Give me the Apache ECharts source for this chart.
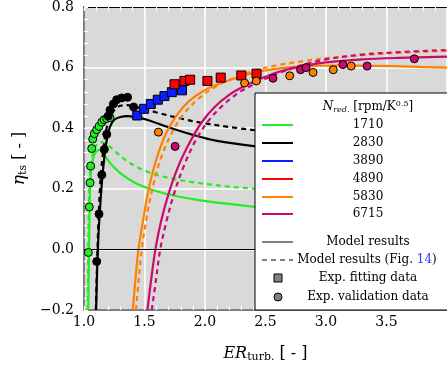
<!DOCTYPE html>
<html>
<head>
<meta charset="utf-8">
<script src="https://cdn.jsdelivr.net/npm/echarts@6/dist/echarts.min.js"></script>
<style>
  html, body { margin: 0; padding: 0; background: #fff; }
  #chart { width: 447px; height: 368px; }
</style>
</head>
<body>
<div id="chart"></div>
<script>
// Reduced speeds shown in the legend
const speedLabels = ['1710', '2830', '3890', '4890', '5830', '6715'];

// Model results (solid) and model results of Fig. 14 (dashed): [ER, eta]
const model1710 = [[1.035,-0.2],[1.04,-0.05],[1.045,0.1],[1.05,0.2],[1.06,0.265],[1.075,0.3],[1.09,0.316],[1.10,0.322],[1.12,0.328],[1.14,0.325],[1.17,0.31],[1.21,0.288],[1.25,0.27],[1.3,0.252],[1.37,0.232],[1.45,0.214],[1.6,0.192],[1.75,0.177],[1.9,0.166],[2.05,0.157],[2.2,0.15],[2.42,0.14]];
const model1710Fig14 = [[1.03,-0.2],[1.035,0],[1.04,0.15],[1.05,0.25],[1.07,0.31],[1.1,0.343],[1.14,0.354],[1.19,0.346],[1.25,0.326],[1.32,0.302],[1.4,0.28],[1.5,0.26],[1.62,0.244],[1.75,0.232],[1.9,0.222],[2.05,0.214],[2.2,0.207],[2.42,0.2]];
const model2830 = [[1.10,-0.2],[1.11,-0.05],[1.12,0.05],[1.135,0.15],[1.15,0.23],[1.17,0.31],[1.19,0.365],[1.215,0.405],[1.25,0.428],[1.3,0.437],[1.36,0.44],[1.42,0.437],[1.52,0.428],[1.7,0.403],[1.9,0.378],[2.1,0.358],[2.42,0.34]];
const model2830Fig14 = [[1.098,-0.2],[1.108,-0.05],[1.12,0.1],[1.14,0.25],[1.17,0.36],[1.2,0.42],[1.25,0.46],[1.3,0.474],[1.36,0.476],[1.45,0.468],[1.6,0.452],[1.8,0.432],[2.0,0.416],[2.2,0.404],[2.42,0.393]];
const model5830 = [[1.403,-0.2],[1.425,-0.1],[1.45,0],[1.49,0.1],[1.535,0.2],[1.6,0.3],[1.68,0.385],[1.77,0.445],[1.87,0.49],[1.98,0.521],[2.1,0.544],[2.25,0.565],[2.4,0.582],[2.55,0.594],[2.7,0.601],[2.9,0.606],[3.1,0.607],[3.4,0.606],[3.7,0.603],[4.0,0.6]];
const model5830Fig14 = [[1.43,-0.2],[1.452,-0.1],[1.477,0],[1.515,0.1],[1.565,0.2],[1.635,0.3],[1.72,0.38],[1.82,0.445],[1.94,0.495],[2.08,0.535],[2.24,0.566],[2.4,0.589],[2.6,0.608],[2.8,0.621],[3.0,0.631],[3.3,0.641],[3.6,0.649],[4.0,0.656]];
const model6715 = [[1.524,-0.2],[1.555,-0.1],[1.59,0],[1.635,0.09],[1.7,0.185],[1.78,0.275],[1.87,0.35],[1.97,0.418],[2.08,0.47],[2.2,0.51],[2.33,0.54],[2.47,0.565],[2.62,0.587],[2.8,0.604],[3.0,0.617],[3.3,0.627],[3.6,0.632],[4.0,0.636]];
const model6715Fig14 = [[1.56,-0.2],[1.595,-0.1],[1.63,0],[1.68,0.09],[1.745,0.185],[1.83,0.28],[1.93,0.365],[2.04,0.43],[2.16,0.48],[2.29,0.52],[2.43,0.55],[2.6,0.58],[2.78,0.606],[3.0,0.627],[3.3,0.643],[3.6,0.651],[4.0,0.658]];

// Experimental fitting data (squares)
const fit3890 = [[1.44,0.442],[1.497,0.464],[1.552,0.48],[1.61,0.494],[1.665,0.506],[1.726,0.519],[1.81,0.525]];
const fit4890 = [[1.748,0.545],[1.83,0.556],[1.877,0.56],[2.02,0.556],[2.13,0.567],[2.3,0.574],[2.426,0.58]];

// Experimental validation data (circles)
const val1710 = [[1.036,-0.01],[1.044,0.14],[1.05,0.22],[1.055,0.275],[1.064,0.333],[1.072,0.364],[1.085,0.382],[1.105,0.395],[1.124,0.406],[1.147,0.42],[1.166,0.428],[1.188,0.432],[1.215,0.435]];
const val2830 = [[1.105,-0.04],[1.124,0.117],[1.147,0.246],[1.168,0.33],[1.188,0.38],[1.2,0.44],[1.215,0.46],[1.243,0.48],[1.27,0.494],[1.312,0.5],[1.36,0.502],[1.41,0.47]];
const val5830 = [[1.615,0.387],[2.327,0.549],[2.424,0.556],[2.7,0.573],[2.893,0.584],[3.06,0.593],[3.208,0.605]];
const val6715 = [[1.753,0.34],[2.562,0.565],[2.79,0.593],[2.835,0.6],[3.14,0.61],[3.34,0.605],[3.73,0.629]];

const FONT = 'DejaVu Serif';
const C = {
  g: '#22ee22', k: '#000000', b: '#0a1eff', r: '#ff0000', o: '#ff8000', m: '#cc0a6e'
};
const speedColors = [C.g, C.k, C.b, C.r, C.o, C.m];
const DASH = [5, 4];

function curve(data, color, dashed) {
  return {
    type: 'line', data, symbol: 'none', smooth: 0.35,
    lineStyle: { color, width: 2.2, type: dashed ? DASH : 'solid' },
    silent: true, z: 3, animation: false
  };
}
function marks(data, color, shape) {
  return {
    type: 'scatter', data, symbol: shape, symbolSize: shape === 'rect' ? 9 : 8,
    itemStyle: { color, borderColor: '#000', borderWidth: 1, opacity: 1 },
    silent: true, z: 5, animation: false
  };
}

const minorTick = { show: true, splitNumber: 5, length: 4, lineStyle: { color: '#ffffff', width: 1.2 } };
const majorTick = { show: true, inside: true, length: 4, lineStyle: { color: '#ffffff', width: 1.2 } };
const tickLabel = { fontFamily: FONT, fontSize: 14, color: '#000' };

// Legend box drawn as graphic elements
const LX = 255, LY = 93, lineX0 = 262, lineX1 = 293, textX = 368;
const rowY = [125, 143, 161, 179, 197, 214];
const legendText = (x, y, text, extra) => Object.assign({
  type: 'text', z: 102, silent: true,
  style: Object.assign({ x, y, text, fontFamily: FONT, fontSize: 12, fill: '#000', align: 'center', verticalAlign: 'middle' }, extra || {})
});
const legendLine = (y, color, dashed) => ({
  type: 'line', z: 102, silent: true,
  shape: { x1: lineX0, y1: y, x2: lineX1, y2: y },
  style: { stroke: color, lineWidth: 2, lineDash: dashed ? [5, 4] : null }
});

const graphic = [
  { type: 'rect', z: 100, silent: true, shape: { x: LX, y: LY, width: 210, height: 217 }, style: { fill: '#ffffff', stroke: '#000', lineWidth: 1 } },
  legendText(textX, 107, '{n|N}{s|red.} [rpm/K{p|0.5}]', {
    rich: {
      n: { fontFamily: FONT, fontSize: 12, fontStyle: 'italic' },
      s: { fontFamily: FONT, fontSize: 8, fontStyle: 'italic', verticalAlign: 'bottom', padding: [6, 0, 0, 0] },
      p: { fontFamily: FONT, fontSize: 8, verticalAlign: 'top', padding: [0, 0, 6, 0] }
    }
  })
];
speedLabels.forEach((lab, i) => {
  graphic.push(legendLine(rowY[i], speedColors[i], false));
  graphic.push(legendText(textX, rowY[i], lab));
});
graphic.push(legendLine(242, '#808080', false));
graphic.push(legendText(textX, 242, 'Model results'));
graphic.push(legendLine(260, '#808080', true));
graphic.push(legendText(367, 260, 'Model results (Fig. {b|14})', {
  rich: { b: { fontFamily: FONT, fontSize: 12, fill: '#3333ff', color: '#3333ff' } }
}));
graphic.push({ type: 'rect', z: 102, silent: true, shape: { x: 274, y: 274, width: 8, height: 8 }, style: { fill: '#808080', stroke: '#000', lineWidth: 1 } });
graphic.push(legendText(textX, 278, 'Exp. fitting data'));
graphic.push({ type: 'circle', z: 102, silent: true, shape: { cx: 278, cy: 297, r: 4 }, style: { fill: '#808080', stroke: '#000', lineWidth: 1 } });
graphic.push(legendText(textX, 297, 'Exp. validation data'));

const chart = echarts.init(document.getElementById('chart'), null, { renderer: 'canvas' });
chart.setOption({
  animation: false,
  backgroundColor: '#ffffff',
  grid: { left: 84, right: 0, top: 7, bottom: 58, show: true, backgroundColor: '#d9d9d9', borderWidth: 0 },
  xAxis: [
    {
      type: 'value', min: 1, max: 4, interval: 0.5, position: 'bottom',
      axisLine: { show: true, onZero: false, lineStyle: { color: '#7f7f7f', width: 2 } },
      axisTick: majorTick,
      minorTick,
      splitLine: { show: true, lineStyle: { color: '#ffffff', width: 1.5 } },
      axisLabel: Object.assign({ margin: 5, showMaxLabel: false, formatter: v => (v >= 3.99 ? '' : v.toFixed(1)) }, tickLabel),
      name: '{i|ER}{s|turb.} [ - ]', nameLocation: 'middle', nameGap: 34,
      nameTextStyle: {
        fontFamily: FONT, fontSize: 16, color: '#000',
        rich: {
          i: { fontFamily: FONT, fontSize: 16, fontStyle: 'italic' },
          s: { fontFamily: FONT, fontSize: 11, verticalAlign: 'bottom', padding: [8, 0, 0, 0] }
        }
      }
    },
    {
      type: 'value', min: 1, max: 4, interval: 0.5, position: 'top',
      axisLine: { show: true, onZero: false, lineStyle: { color: '#000', width: 1.2 } },
      axisTick: majorTick,
      minorTick, splitLine: { show: false }, axisLabel: { show: false }
    }
  ],
  yAxis: {
    type: 'value', min: -0.2, max: 0.8, interval: 0.2,
    axisLine: { show: true, onZero: false, lineStyle: { color: '#7f7f7f', width: 2 } },
    axisTick: majorTick,
    minorTick,
    splitLine: { show: true, lineStyle: { color: '#ffffff', width: 1.5 } },
    axisLabel: Object.assign({ margin: 10, formatter: v => (v < -1e-9 ? '\u2212' + Math.abs(v).toFixed(1) : Math.abs(v).toFixed(1)) }, tickLabel),
    name: '{i|\u03b7}{s|ts} [ - ]', nameLocation: 'middle', nameGap: 52, nameRotate: 90,
    nameTextStyle: {
      fontFamily: FONT, fontSize: 16, color: '#000',
      rich: {
        i: { fontFamily: FONT, fontSize: 17, fontStyle: 'italic' },
        s: { fontFamily: FONT, fontSize: 11, verticalAlign: 'bottom', padding: [8, 0, 0, 0] }
      }
    }
  },
  graphic,
  series: [
    Object.assign(curve(model1710, C.g, false), {
      markLine: { silent: true, symbol: 'none', animation: false, label: { show: false },
        lineStyle: { color: '#000', width: 1, type: 'solid' }, data: [{ yAxis: 0 }] }
    }),
    curve(model1710Fig14, C.g, true),
    curve(model2830, C.k, false),
    curve(model2830Fig14, C.k, true),
    curve(model5830, C.o, false),
    curve(model5830Fig14, C.o, true),
    curve(model6715, C.m, false),
    curve(model6715Fig14, C.m, true),
    marks(val1710, C.g, 'circle'),
    marks(val2830, C.k, 'circle'),
    marks(fit3890, C.b, 'rect'),
    marks(fit4890, C.r, 'rect'),
    marks(val5830, C.o, 'circle'),
    marks(val6715, C.m, 'circle')
  ]
});
</script>
</body>
</html>
